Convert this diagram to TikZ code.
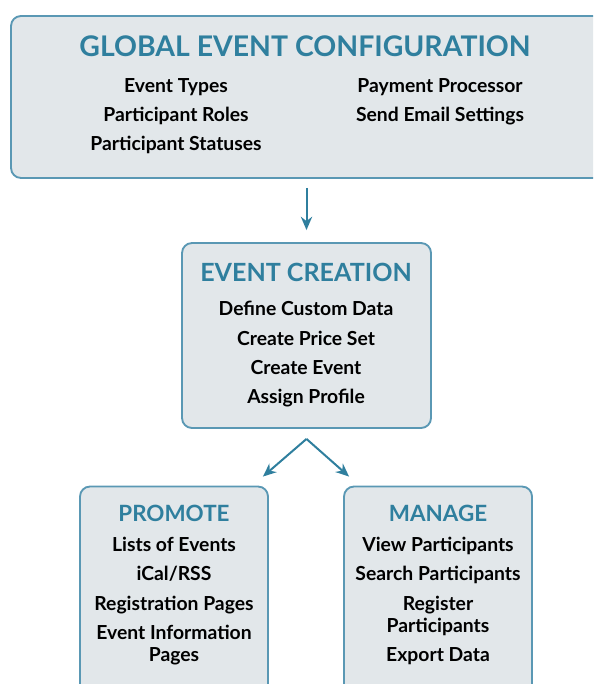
\documentclass[tikz,border=0pt]{standalone}
\usepackage{fontspec}
\setmainfont{Lato}
\usetikzlibrary{positioning,arrows.meta}
\definecolor{civiblue}{HTML}{2F7F9E}
\definecolor{civiline}{HTML}{5A98B4}
\definecolor{civigrey}{HTML}{E2E7EA}

\begin{document}
\begin{tikzpicture}[x=0.75pt, y=-0.75pt,
    panel/.style = {draw=civiline, fill=civigrey, line width=1.4pt, rounded corners=7.5pt, inner sep=0pt},
    head/.style = {text=civiblue, font=\bfseries\fontsize{21.3}{24}\selectfont, inner sep=0pt},
    subhead/.style = {text=civiblue, font=\bfseries\fontsize{16.8}{19}\selectfont, inner sep=0pt},
    item/.style = {font=\bfseries\fontsize{14.5}{16.5}\selectfont, align=center, inner sep=0pt, text height=10.5pt, text depth=0pt},
    flow/.style = {draw=civiblue, line width=1.5pt, -{Stealth[length=10pt, width=8.5pt]}}]
    \useasboundingbox (0,0) rectangle (593,684);
    \clip (0,0) rectangle (593,684);

    % boxes
    \node[panel, minimum width=453pt, minimum height=121.5pt] (global) at (313,97) {};
    \node[panel, minimum width=186.75pt, minimum height=138.75pt] (creation) at (306.5,335.5) {};
    \node[panel, minimum width=141pt, minimum height=167.25pt] (promote) at (174,598) {};
    \node[panel, minimum width=141pt, minimum height=167.25pt] (manage) at (438,598) {};

    % global configuration
    \node[head] (globalhead) at (305,46) {GLOBAL EVENT CONFIGURATION};
    \node[item] (types) at (176,85.5) {Event Types};
    \node[item] (roles) at (176,114.5) {Participant Roles};
    \node[item] (statuses) at (176,143.5) {Participant Statuses};
    \node[item] (payment) at (440,85.5) {Payment Processor};
    \node[item] (email) at (440,114.5) {Send Email Settings};

    % event creation
    \node[subhead, font=\bfseries\fontsize{18.8}{21}\selectfont] (creationhead) at (306,272) {EVENT CREATION};
    \node[item] (customdata) at (306,308.5) {Define Custom Data};
    \node[item] (priceset) at (306,338.5) {Create Price Set};
    \node[item] (newevent) at (306,367.5) {Create Event};
    \node[item] (profile) at (306,396.5) {Assign Profile};

    % promote
    \node[subhead] (promotehead) at (174,513) {PROMOTE};
    \node[item] (lists) at (174,544.5) {Lists of Events};
    \node[item] (ical) at (174,573.5) {iCal/RSS};
    \node[item] (regpages) at (174,603.5) {Registration Pages};
    \node[item, text height=, text depth=] (infopages) at (174,645.5) {Event Information\\Pages};

    % manage
    \node[subhead] (managehead) at (438,513) {MANAGE};
    \node[item] (view) at (438,544.5) {View Participants};
    \node[item] (search) at (438,573.5) {Search Participants};
    \node[item, text height=, text depth=] (register) at (438,615.5) {Register\\Participants};
    \node[item] (export) at (438,654.5) {Export Data};

    % arrows
    \coordinate (fork) at ([yshift=-7.5pt]creation.south);
    \coordinate (promotein) at ([xshift=-4.5pt, yshift=6.75pt]promote.north east);
    \coordinate (managein) at ([xshift=4.5pt, yshift=6.75pt]manage.north west);

    \draw[flow, shorten <=6.75pt, shorten >=9pt] (global.south -| creation.north) -- (creation.north);
    \draw[flow] (fork) -- (promotein);
    \draw[flow] (fork) -- (managein);

\end{tikzpicture}
\end{document}
